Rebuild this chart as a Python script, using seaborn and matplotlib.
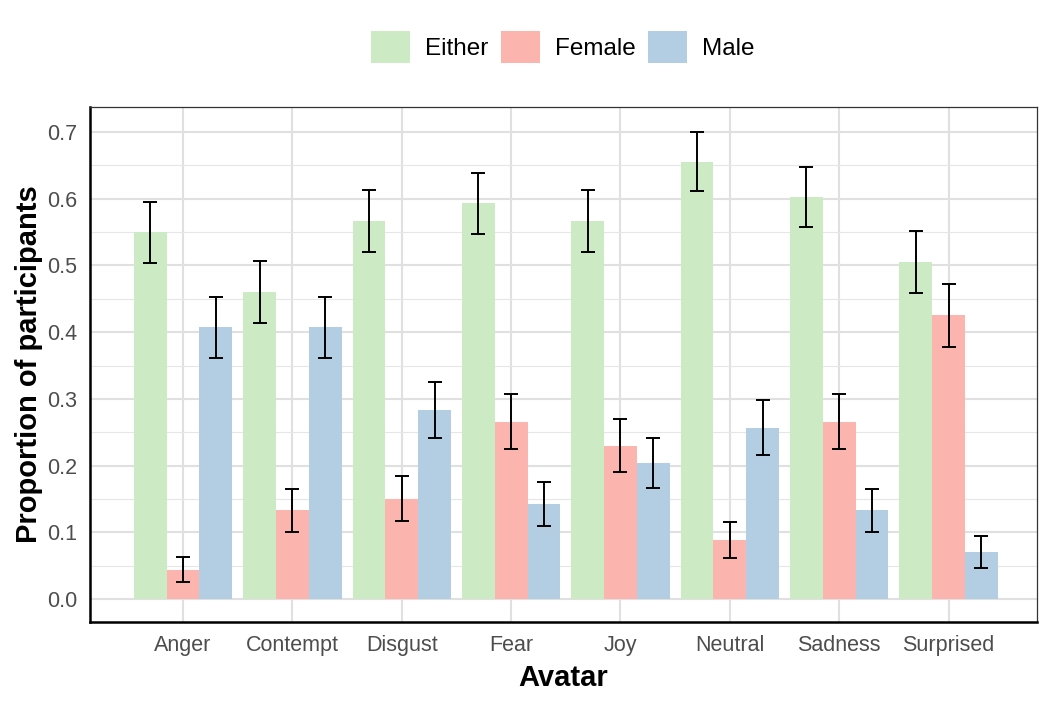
import numpy as np
import pandas as pd
import matplotlib
matplotlib.use("Agg")
import matplotlib.pyplot as plt
import seaborn as sns
from matplotlib.ticker import MultipleLocator

# data
avatars = ["Anger", "Contempt", "Disgust", "Fear", "Joy", "Neutral", "Sadness", "Surprised"]
groups = ["Either", "Female", "Male"]

either = [0.550, 0.460, 0.567, 0.593, 0.567, 0.655, 0.602, 0.505]
either_lo = [0.503, 0.414, 0.520, 0.547, 0.520, 0.611, 0.557, 0.458]
either_hi = [0.595, 0.507, 0.613, 0.639, 0.613, 0.700, 0.648, 0.552]

female = [0.044, 0.133, 0.150, 0.266, 0.230, 0.088, 0.266, 0.425]
female_lo = [0.025, 0.101, 0.117, 0.225, 0.191, 0.062, 0.225, 0.378]
female_hi = [0.063, 0.165, 0.184, 0.308, 0.270, 0.115, 0.308, 0.472]

male = [0.407, 0.407, 0.283, 0.142, 0.204, 0.257, 0.133, 0.071]
male_lo = [0.361, 0.361, 0.241, 0.109, 0.166, 0.216, 0.101, 0.047]
male_hi = [0.453, 0.453, 0.325, 0.175, 0.242, 0.298, 0.165, 0.095]

colors = {"Either": "#CCEBC5", "Female": "#FBB4AE", "Male": "#B3CDE3"}

df = pd.DataFrame({
    "Avatar": avatars * 3,
    "Group": ["Either"] * 8 + ["Female"] * 8 + ["Male"] * 8,
    "prop": either + female + male,
    "lo": either_lo + female_lo + male_lo,
    "hi": either_hi + female_hi + male_hi,
})

sns.set_style("white")
plt.rcParams["font.family"] = ["Liberation Sans", "DejaVu Sans"]

fig = plt.figure(figsize=(10.54, 7.03), dpi=100)
ax = fig.add_axes([0.0854, 0.1152, 0.8986, 0.7326])

sns.barplot(data=df, x="Avatar", y="prop", hue="Group", order=avatars,
            hue_order=groups, palette=colors, width=0.9, saturation=1,
            errorbar=None, linewidth=0, edgecolor="none", ax=ax, zorder=2)

# error bars on each bar (containers are in hue order)
for cont, g in zip(ax.containers, groups):
    sub = df[df["Group"] == g].set_index("Avatar").loc[avatars]
    xs = [p.get_x() + p.get_width() / 2 for p in cont.patches]
    ax.errorbar(xs, sub["prop"], yerr=[sub["prop"] - sub["lo"], sub["hi"] - sub["prop"]],
                fmt="none", ecolor="black", elinewidth=1.4, capsize=5, capthick=1.4, zorder=3)

ax.set_ylim(-0.0345, 0.7375)
ax.set_xlim(-0.851, 7.81)
ax.yaxis.set_major_locator(MultipleLocator(0.1))
ax.yaxis.set_minor_locator(MultipleLocator(0.05))
ax.set_yticks(np.arange(0, 0.71, 0.1))
ax.set_yticklabels([f"{v:.1f}" for v in np.arange(0, 0.71, 0.1)])

ax.set_axisbelow(True)
ax.grid(True, which="major", axis="both", color="#E0E0E0", lw=1.5)
ax.grid(True, which="minor", axis="y", color="#E6E6E6", lw=0.8)

for s in ["left", "bottom"]:
    ax.spines[s].set_color("black")
    ax.spines[s].set_linewidth(1.8)
for s in ["top", "right"]:
    ax.spines[s].set_color("#333333")
    ax.spines[s].set_linewidth(0.9)

ax.tick_params(axis="both", which="major", length=4, width=1.4, color="#333333",
               labelsize=15.5, labelcolor="#4D4D4D", pad=5)
ax.tick_params(axis="y", which="minor", length=0)

ax.set_xlabel("Avatar", fontsize=21, fontweight="bold", color="black", labelpad=6)
ax.set_ylabel("Proportion of participants", fontsize=21, fontweight="bold", color="black", labelpad=3)

ax.legend_.remove()
handles = [plt.Rectangle((0, 0), 1, 1, facecolor=colors[g], edgecolor="none") for g in groups]
leg = fig.legend(handles, groups, loc="center", bbox_to_anchor=(0.534, 0.933), ncol=3,
                 frameon=False, fontsize=17.5, handlelength=1.6, handleheight=1.6,
                 handletextpad=0.62, columnspacing=0.5)
for t in leg.get_texts():
    t.set_color("black")

fig.savefig("out.png", dpi=100)
